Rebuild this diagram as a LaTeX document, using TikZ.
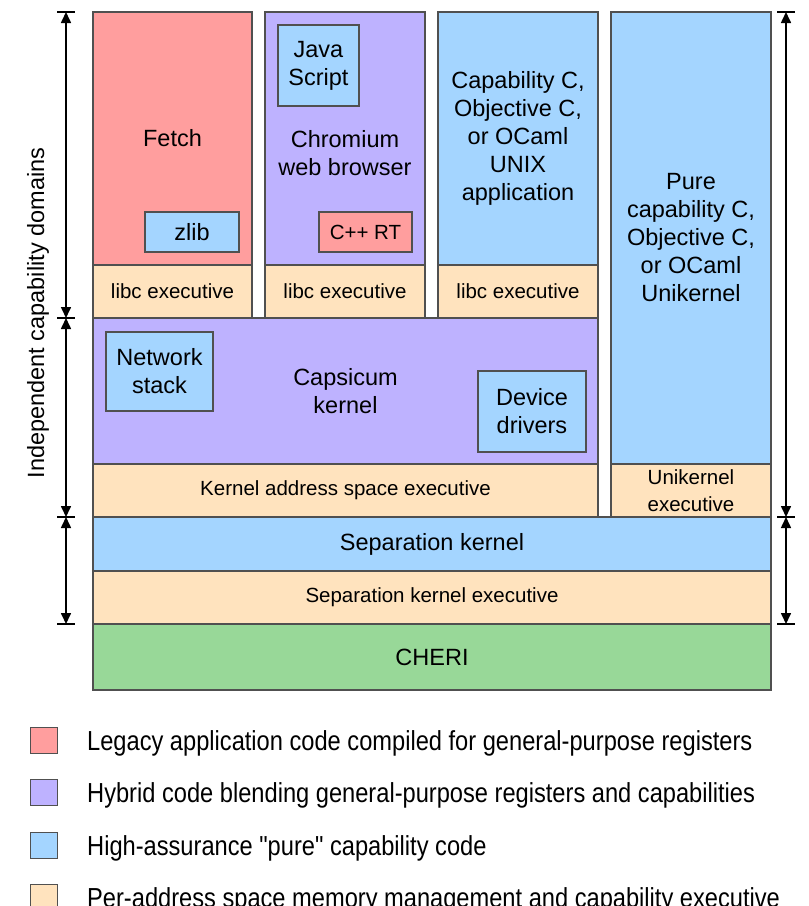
\documentclass[tikz,border=0pt]{standalone}
\usepackage{fontspec}
\setmainfont{Liberation Sans}
\newfontfamily\legendfont[FakeStretch=0.86]{Liberation Sans}
\usetikzlibrary{arrows.meta}
\definecolor{cpink}{RGB}{255,158,158}
\definecolor{cpurple}{RGB}{190,178,255}
\definecolor{cblue}{RGB}{164,213,255}
\definecolor{cpeach}{RGB}{255,227,190}
\definecolor{cgreen}{RGB}{152,216,152}
\definecolor{cborder}{RGB}{80,80,80}
\newcommand\mainsz{\fontsize{23.5}{28}\selectfont}
\newcommand\smallsz{\fontsize{20.5}{27}\selectfont}
\begin{document}
\begin{tikzpicture}[x=1pt,y=-1pt,
  rect/.style args={#1/#2/#3/#4}{minimum width={(#3-#1)*1pt}, minimum height={(#4-#2)*1pt}, at={({(#1+#3)/2},{(#2+#4)/2})}},
  box/.style={draw=cborder, line width=1.3pt, inner sep=0pt, outer sep=0pt, align=center, font=\mainsz, anchor=center},
  sbox/.style={box, font=\smallsz},
  txt/.style={align=center, font=\mainsz, inner sep=0pt},
  dim/.style={line width=1.6pt, {Triangle[width=10pt,length=11pt]}-{Triangle[width=10pt,length=11pt]}},
  barl/.style={line width=1.6pt},
  legsq/.style={draw=cborder, line width=1.3pt, minimum width=27pt, minimum height=26pt, inner sep=0pt, anchor=north west},
  legtxt/.style={anchor=base west, inner sep=0pt, font=\legendfont\fontsize{27.5}{30}\selectfont}]
\useasboundingbox (0,0) rectangle (809,906);

% top columns
\node[box, fill=cpink, rect=93/12/252/265] (fetch) {Fetch};
\node[sbox, fill=cpeach, rect=93/265/252/318] (fetchlibc) {libc executive};
\node[box, fill=cpurple, rect=265/12/425/265] (chrome) {};
\node[txt] (chrometxt) at (345,153) {Chromium\\web browser};
\node[sbox, fill=cpeach, rect=265/265/425/318] (chromelibc) {libc executive};
\node[box, fill=cblue, rect=438/12/598/265] (app) {Capability C,\\Objective C,\\or OCaml\\UNIX\\application};
\node[sbox, fill=cpeach, rect=438/265/598/318] (applibc) {libc executive};
\node[box, fill=cblue, rect=611/12/771/464] (pure) {Pure\\capability C,\\Objective C,\\or OCaml\\Unikernel};
\node[sbox, fill=cpeach, rect=611/464/771/517] (unikexec) {Unikernel\\executive};

% inner boxes
\node[box, fill=cblue, rect=145/212/239/252] (zlib) {zlib};
\node[sbox, fill=cpink, rect=319/212/412/252] (cpprt) {C++ RT};
\node[box, fill=cblue, rect=278/25/359/106] (js) {Java\\Script};

% kernel
\node[box, fill=cpurple, rect=93/318/598/464] (capsicum) {Capsicum\\kernel};
\node[box, fill=cblue, rect=106/332/213/411] (net) {Network\\stack};
\node[box, fill=cblue, rect=478/371/586/452] (dev) {Device\\drivers};
\node[sbox, fill=cpeach, rect=93/464/598/517] (kexec) {Kernel address space executive};

% bottom layers
\node[box, fill=cblue, rect=93/517/771/571] (sepk) {Separation kernel};
\node[sbox, fill=cpeach, rect=93/571/771/624] (sepexec) {Separation kernel executive};
\node[box, fill=cgreen, rect=93/624/771/690] (cheri) {CHERI};

% dimension arrows left
\coordinate (la0) at (66,12);
\coordinate (la1) at (66,318);
\coordinate (la2) at (66,517);
\coordinate (la3) at (66,624);
\draw[dim] (la0) -- (la1);
\draw[dim] (la1) -- (la2);
\draw[dim] (la2) -- (la3);
\foreach \c in {la0,la1,la2,la3} \draw[barl] ([xshift=-9pt]\c) -- ([xshift=9pt]\c);
\node[txt, rotate=90] (domains) at (38,313) {Independent capability domains};

% dimension arrows right
\coordinate (ra0) at (786,12);
\coordinate (ra1) at (786,517);
\coordinate (ra2) at (786,624);
\draw[dim] (ra0) -- (ra1);
\draw[dim] (ra1) -- (ra2);
\foreach \c in {ra0,ra1,ra2} \draw[barl] ([xshift=-9pt]\c) -- ([xshift=9pt]\c);

% legend
\node[legsq, fill=cpink] (l1) at (30,727) {};
\node[legtxt] (t1) at (87,750) {Legacy application code compiled for general-purpose registers};
\node[legsq, fill=cpurple] (l2) at (30,779) {};
\node[legtxt] (t2) at (87,802) {Hybrid code blending general-purpose registers and capabilities};
\node[legsq, fill=cblue] (l3) at (30,832) {};
\node[legtxt] (t3) at (87,855) {High-assurance "pure" capability code};
\node[legsq, fill=cpeach] (l4) at (30,884) {};
\node[legtxt] (t4) at (87,907) {Per-address space memory management and capability executive};
\end{tikzpicture}
\end{document}
